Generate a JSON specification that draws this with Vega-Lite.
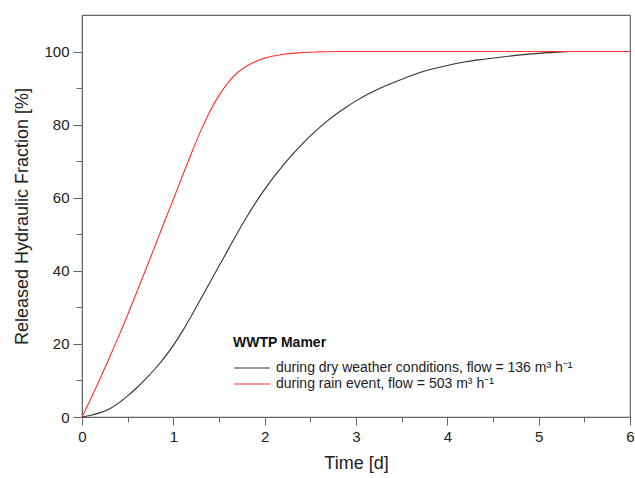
{
  "$schema": "https://vega.github.io/schema/vega-lite/v6.json",
  "width": 548,
  "height": 402,
  "autosize": "none",
  "padding": {"left": 82, "top": 15, "right": 5, "bottom": 61},
  "background": "white",
  "config": {
    "view": {"stroke": "#666", "strokeWidth": 1.2},
    "font": "Liberation Sans"
  },
  "data": {
    "values": [
      {"t": 0, "v": 0, "series": "during dry weather conditions, flow = 136 m³ h⁻¹"},
      {"t": 0.1, "v": 0.5, "series": "during dry weather conditions, flow = 136 m³ h⁻¹"},
      {"t": 0.2, "v": 1.2, "series": "during dry weather conditions, flow = 136 m³ h⁻¹"},
      {"t": 0.3, "v": 2.2, "series": "during dry weather conditions, flow = 136 m³ h⁻¹"},
      {"t": 0.4, "v": 3.8, "series": "during dry weather conditions, flow = 136 m³ h⁻¹"},
      {"t": 0.5, "v": 5.8, "series": "during dry weather conditions, flow = 136 m³ h⁻¹"},
      {"t": 0.6, "v": 8.0, "series": "during dry weather conditions, flow = 136 m³ h⁻¹"},
      {"t": 0.7, "v": 10.5, "series": "during dry weather conditions, flow = 136 m³ h⁻¹"},
      {"t": 0.8, "v": 13.2, "series": "during dry weather conditions, flow = 136 m³ h⁻¹"},
      {"t": 0.9, "v": 16.2, "series": "during dry weather conditions, flow = 136 m³ h⁻¹"},
      {"t": 1.0, "v": 19.6, "series": "during dry weather conditions, flow = 136 m³ h⁻¹"},
      {"t": 1.1, "v": 23.5, "series": "during dry weather conditions, flow = 136 m³ h⁻¹"},
      {"t": 1.2, "v": 27.8, "series": "during dry weather conditions, flow = 136 m³ h⁻¹"},
      {"t": 1.3, "v": 32.3, "series": "during dry weather conditions, flow = 136 m³ h⁻¹"},
      {"t": 1.4, "v": 36.8, "series": "during dry weather conditions, flow = 136 m³ h⁻¹"},
      {"t": 1.5, "v": 41.3, "series": "during dry weather conditions, flow = 136 m³ h⁻¹"},
      {"t": 1.6, "v": 45.8, "series": "during dry weather conditions, flow = 136 m³ h⁻¹"},
      {"t": 1.7, "v": 50.3, "series": "during dry weather conditions, flow = 136 m³ h⁻¹"},
      {"t": 1.8, "v": 54.6, "series": "during dry weather conditions, flow = 136 m³ h⁻¹"},
      {"t": 1.9, "v": 58.6, "series": "during dry weather conditions, flow = 136 m³ h⁻¹"},
      {"t": 2.0, "v": 62.3, "series": "during dry weather conditions, flow = 136 m³ h⁻¹"},
      {"t": 2.1, "v": 65.7, "series": "during dry weather conditions, flow = 136 m³ h⁻¹"},
      {"t": 2.2, "v": 68.8, "series": "during dry weather conditions, flow = 136 m³ h⁻¹"},
      {"t": 2.3, "v": 71.7, "series": "during dry weather conditions, flow = 136 m³ h⁻¹"},
      {"t": 2.4, "v": 74.4, "series": "during dry weather conditions, flow = 136 m³ h⁻¹"},
      {"t": 2.5, "v": 76.9, "series": "during dry weather conditions, flow = 136 m³ h⁻¹"},
      {"t": 2.6, "v": 79.2, "series": "during dry weather conditions, flow = 136 m³ h⁻¹"},
      {"t": 2.7, "v": 81.3, "series": "during dry weather conditions, flow = 136 m³ h⁻¹"},
      {"t": 2.8, "v": 83.2, "series": "during dry weather conditions, flow = 136 m³ h⁻¹"},
      {"t": 2.9, "v": 84.9, "series": "during dry weather conditions, flow = 136 m³ h⁻¹"},
      {"t": 3.0, "v": 86.5, "series": "during dry weather conditions, flow = 136 m³ h⁻¹"},
      {"t": 3.2, "v": 89.2, "series": "during dry weather conditions, flow = 136 m³ h⁻¹"},
      {"t": 3.4, "v": 91.4, "series": "during dry weather conditions, flow = 136 m³ h⁻¹"},
      {"t": 3.6, "v": 93.4, "series": "during dry weather conditions, flow = 136 m³ h⁻¹"},
      {"t": 3.8, "v": 95.0, "series": "during dry weather conditions, flow = 136 m³ h⁻¹"},
      {"t": 4.0, "v": 96.2, "series": "during dry weather conditions, flow = 136 m³ h⁻¹"},
      {"t": 4.2, "v": 97.2, "series": "during dry weather conditions, flow = 136 m³ h⁻¹"},
      {"t": 4.4, "v": 97.9, "series": "during dry weather conditions, flow = 136 m³ h⁻¹"},
      {"t": 4.6, "v": 98.5, "series": "during dry weather conditions, flow = 136 m³ h⁻¹"},
      {"t": 4.8, "v": 99.1, "series": "during dry weather conditions, flow = 136 m³ h⁻¹"},
      {"t": 5.0, "v": 99.5, "series": "during dry weather conditions, flow = 136 m³ h⁻¹"},
      {"t": 5.2, "v": 99.8, "series": "during dry weather conditions, flow = 136 m³ h⁻¹"},
      {"t": 5.35, "v": 100, "series": "during dry weather conditions, flow = 136 m³ h⁻¹"},
      {"t": 0, "v": 0, "series": "during rain event, flow = 503 m³ h⁻¹"},
      {"t": 0.1, "v": 5.2, "series": "during rain event, flow = 503 m³ h⁻¹"},
      {"t": 0.2, "v": 10.6, "series": "during rain event, flow = 503 m³ h⁻¹"},
      {"t": 0.3, "v": 16.2, "series": "during rain event, flow = 503 m³ h⁻¹"},
      {"t": 0.4, "v": 22.0, "series": "during rain event, flow = 503 m³ h⁻¹"},
      {"t": 0.5, "v": 28.0, "series": "during rain event, flow = 503 m³ h⁻¹"},
      {"t": 0.6, "v": 34.2, "series": "during rain event, flow = 503 m³ h⁻¹"},
      {"t": 0.7, "v": 40.5, "series": "during rain event, flow = 503 m³ h⁻¹"},
      {"t": 0.8, "v": 46.8, "series": "during rain event, flow = 503 m³ h⁻¹"},
      {"t": 0.9, "v": 53.3, "series": "during rain event, flow = 503 m³ h⁻¹"},
      {"t": 1.0, "v": 59.5, "series": "during rain event, flow = 503 m³ h⁻¹"},
      {"t": 1.1, "v": 66.0, "series": "during rain event, flow = 503 m³ h⁻¹"},
      {"t": 1.2, "v": 72.3, "series": "during rain event, flow = 503 m³ h⁻¹"},
      {"t": 1.3, "v": 78.3, "series": "during rain event, flow = 503 m³ h⁻¹"},
      {"t": 1.4, "v": 83.6, "series": "during rain event, flow = 503 m³ h⁻¹"},
      {"t": 1.5, "v": 88.0, "series": "during rain event, flow = 503 m³ h⁻¹"},
      {"t": 1.6, "v": 91.5, "series": "during rain event, flow = 503 m³ h⁻¹"},
      {"t": 1.7, "v": 94.2, "series": "during rain event, flow = 503 m³ h⁻¹"},
      {"t": 1.8, "v": 96.0, "series": "during rain event, flow = 503 m³ h⁻¹"},
      {"t": 1.9, "v": 97.3, "series": "during rain event, flow = 503 m³ h⁻¹"},
      {"t": 2.0, "v": 98.2, "series": "during rain event, flow = 503 m³ h⁻¹"},
      {"t": 2.2, "v": 99.2, "series": "during rain event, flow = 503 m³ h⁻¹"},
      {"t": 2.4, "v": 99.7, "series": "during rain event, flow = 503 m³ h⁻¹"},
      {"t": 2.6, "v": 99.9, "series": "during rain event, flow = 503 m³ h⁻¹"},
      {"t": 2.8, "v": 100, "series": "during rain event, flow = 503 m³ h⁻¹"},
      {"t": 4.0, "v": 100, "series": "during rain event, flow = 503 m³ h⁻¹"},
      {"t": 6.0, "v": 100, "series": "during rain event, flow = 503 m³ h⁻¹"}
    ]
  },
  "layer": [
    {
      "mark": {"type": "line", "strokeWidth": 1.1, "interpolate": "monotone"},
      "encoding": {
        "x": {
          "field": "t", "type": "quantitative",
          "scale": {"domain": [0, 6], "nice": false},
          "axis": {
            "title": "Time [d]", "values": [0, 1, 2, 3, 4, 5, 6],
            "grid": false, "tickSize": 8, "tickColor": "#666", "domainColor": "#666",
            "labelFontSize": 15, "labelColor": "#222", "labelPadding": 4,
            "titleFontSize": 18, "titleFontWeight": "normal", "titleColor": "#222", "titlePadding": 10,
            "labelFlush": false
          }
        },
        "y": {
          "field": "v", "type": "quantitative",
          "scale": {"domain": [0, 110], "nice": false},
          "axis": {
            "title": "Released Hydraulic Fraction [%]", "values": [0, 20, 40, 60, 80, 100],
            "grid": false, "tickSize": 9, "tickColor": "#666", "domainColor": "#666",
            "labelFontSize": 15, "labelColor": "#222", "labelPadding": 4,
            "titleFontSize": 18, "titleFontWeight": "normal", "titleColor": "#222", "titlePadding": 12,
            "labelFlush": false
          }
        },
        "color": {
          "field": "series", "type": "nominal",
          "scale": {
            "domain": ["during dry weather conditions, flow = 136 m³ h⁻¹", "during rain event, flow = 503 m³ h⁻¹"],
            "range": ["#333333", "#ff3030"]
          },
          "legend": {
            "title": "WWTP Mamer",
            "orient": "none", "legendX": 151, "legendY": 321,
            "symbolType": "stroke", "symbolSize": 1300, "symbolStrokeWidth": 1.2,
            "titleFontSize": 14, "titleFontWeight": "bold", "titleColor": "#111", "titlePadding": 10,
            "labelFontSize": 14, "labelColor": "#222", "labelOffset": 5, "labelLimit": 500,
            "rowPadding": 0, "clipHeight": 16
          }
        }
      }
    },
    {
      "mark": {"type": "line", "opacity": 0},
      "encoding": {
        "x": {
          "field": "t", "type": "quantitative",
          "axis": {
            "orient": "bottom", "values": [0.5, 1.5, 2.5, 3.5, 4.5, 5.5],
            "labels": false, "domain": false, "grid": false, "tickSize": 5, "tickColor": "#666", "title": null
          }
        },
        "y": {
          "field": "v", "type": "quantitative",
          "axis": {
            "orient": "left", "values": [10, 30, 50, 70, 90],
            "labels": false, "domain": false, "grid": false, "tickSize": 6, "tickColor": "#666", "title": null
          }
        },
        "detail": {"field": "series"}
      }
    }
  ],
  "resolve": {"axis": {"x": "independent", "y": "independent"}}
}
